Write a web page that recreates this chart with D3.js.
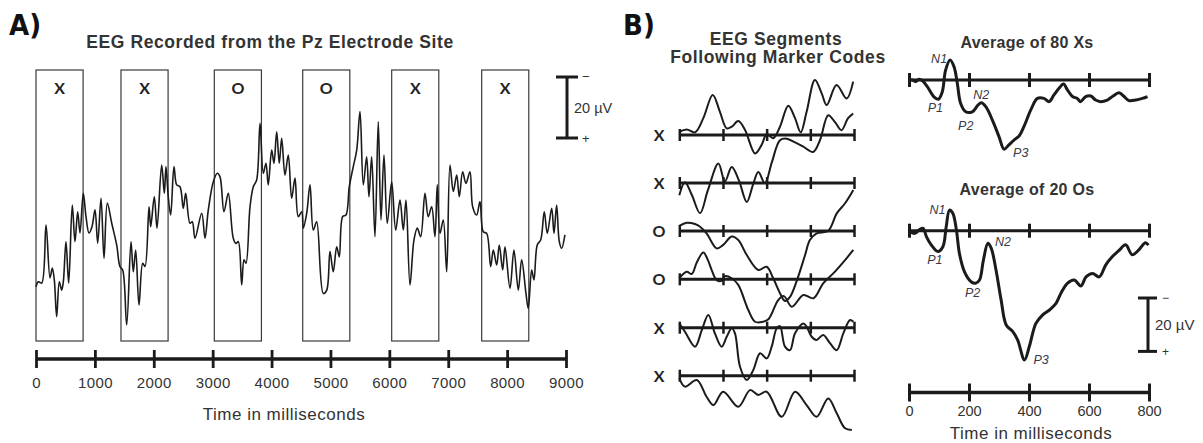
<!DOCTYPE html>
<html>
<head>
<meta charset="utf-8">
<script src="https://cdn.jsdelivr.net/npm/d3@7"></script>
<style>
  body { margin: 0; background: #fff; }
  text { font-family: "Liberation Sans", Arial, sans-serif; }
</style>
</head>
<body>
<script>
// Panel A: continuous EEG (time in ms, amplitude in uV, positive plotted down)
var eegTime = [0,39,97,170,238,277,311,351,396,436,464,509,555,616,662,708,747,803,849,900,951,1002,1048,1104,1155,1211,1285,1370,1426,1472,1540,1613,1652,1693,1749,1812,1851,1919,1948,2009,2055,2134,2179,2207,2246,2287,2343,2389,2445,2501,2542,2615,2654,2700,2814,2870,2926,3011,3078,3124,3192,3265,3350,3396,3435,3493,3532,3566,3634,3690,3747,3804,3860,3905,3944,4002,4041,4087,4131,4172,4228,4284,4342,4398,4454,4512,4539,4597,4653,4709,4766,4878,4937,4992,5048,5106,5150,5208,5264,5320,5388,5446,5502,5558,5615,5654,5700,5756,5812,5858,5909,5965,6040,6108,6181,6237,6283,6351,6418,6475,6532,6605,6661,6719,6775,6814,6860,6916,6974,7030,7086,7144,7188,7245,7301,7369,7415,7483,7539,7595,7653,7721,7766,7823,7867,7925,7964,8049,8116,8190,8247,8320,8359,8417,8456,8512,8570,8631,8682,8757,8796,8841,8886,8926,8982];
var eegUv = [18.6,17.0,17.4,-1.6,15.7,12.5,16.4,28.4,17.0,19.7,17.0,3.8,17.4,-8.2,3.8,-6.0,1.0,-12.0,-4.4,1.0,-1.1,-6.6,4.3,-10.4,9.3,-8.8,-2.3,4.9,12.0,13.1,31.1,3.8,13.7,6.6,24.6,10.9,12.0,-7.6,-1.1,-10.9,-0.6,-21.3,-12.0,-20.8,-10.9,-4.9,-20.8,-14.8,-14.2,-7.1,-12.0,-2.2,-2.7,2.7,-5.5,2.7,-6.6,-15.8,-18.6,-17.5,-6.0,-12.0,2.7,4.4,3.8,18.0,9.8,10.9,-7.6,-14.2,-16.4,-35.0,-18.6,-21.9,-14.8,-26.2,-21.9,-32.2,-21.9,-30.1,-18.0,-24.6,-10.4,-17.0,-4.4,-6.0,-0.6,-5.5,-14.8,0,-2.7,20.8,19.7,7.1,13.7,5.5,8.8,-4.4,-4.9,-14.2,-20.8,-26.2,-38.8,-14.8,-24.0,-10.9,-24.0,2.2,-35.5,-3.3,-24.6,-2.2,-15.8,0,-9.8,0,-9.8,18.0,3.3,-0.6,2.2,-12.0,-4.4,-7.6,2.2,-14.8,1.1,-3.3,13.7,-21.3,-12.6,-18.0,-10.9,-19.1,-15.3,-19.1,-7.6,-4.9,-9.3,0.6,1.1,12.0,6.6,11.5,4.9,13.1,5.5,19.1,6.6,19.7,9.8,20.8,25.7,13.1,16.4,4.9,3.3,-6.0,1.1,-7.1,1.1,-8.2,3.8,6.0,1.6];

var markerCodes = ["X", "X", "O", "O", "X", "X"];
var markerOnsets = [0, 1443, 3028, 4529, 6040, 7568];
var epochLength = 800;
var ticksA = [0, 1000, 2000, 3000, 4000, 5000, 6000, 7000, 8000, 9000];

// Panel B: single segments, [ms, uV]
var seg1 = [[0,-1.2],[34,-2.1],[72,-1.0],[110,-6.3],[153,-15.0],[186,-8.7],[217,-2.5],[240,-3.1],[270,-5.2],[301,-1.9],[347,6.9],[377,3.7],[400,-0.3],[430,1.2],[461,-3.1],[499,-11.0],[530,-6.3],[556,-1.0],[583,-8.7],[621,-20.6],[652,-15.6],[675,-11.2],[720,-18.7],[766,-13.7],[796,-20.0]];
var seg2 = [[0,4.6],[26,-0.3],[58,4.6],[95,11.3],[131,2.7],[179,-7.3],[209,-0.6],[240,-6.0],[273,-1.0],[309,7.1],[337,0.8],[362,-4.1],[392,0.1],[424,-7.8],[461,-16.0],[492,-16.6],[530,-15.2],[566,-13.7],[613,-11.6],[644,-16.0],[682,-25.4],[713,-22.8],[743,-19.8],[772,-24.2],[796,-26.0]];
var seg3 = [[0,-1.9],[34,-3.1],[72,-2.6],[95,-1.6],[125,0.9],[171,6.5],[201,5.2],[240,2.1],[270,3.4],[309,9.0],[362,14.6],[400,13.4],[430,17.7],[461,23.3],[484,26.2],[507,24.7],[539,18.4],[576,9.0],[598,3.4],[629,0.9],[682,-0.1],[721,-6.6],[759,-10.4],[797,-15.4]];
var seg4 = [[0,-0.4],[34,-2.8],[57,-2.0],[81,-6.5],[110,-10.0],[131,-7.2],[148,-3.5],[171,0.3],[194,0.6],[209,-1.2],[240,-0.4],[270,2.1],[316,11.5],[347,15.9],[379,16.0],[408,15.0],[453,7.8],[479,6.3],[515,10.3],[568,5.9],[614,7.1],[659,1.5],[705,-2.2],[759,-7.2],[797,-11.0]];
var seg5 = [[0,-1.6],[26,1.5],[72,7.1],[103,0.9],[133,-4.8],[163,2.1],[194,7.1],[217,3.4],[240,0.2],[255,2.1],[278,14.6],[309,19.6],[339,15.8],[370,9.6],[400,11.5],[423,7.1],[446,0.2],[461,-0.6],[484,7.1],[507,8.4],[530,2.1],[568,-1.6],[583,-0.4],[606,3.4],[629,4.6],[659,2.7],[690,5.8],[721,8.4],[751,2.1],[782,-2.9],[797,-2.2]];
var seg6 = [[0,1.0],[26,4.1],[80,1.6],[125,7.9],[156,11.0],[201,6.0],[270,11.6],[324,5.4],[362,7.2],[400,6.0],[469,15.4],[530,6.0],[583,11.0],[629,15.4],[682,8.5],[721,14.1],[759,19.7],[790,20.3]];
var segCodes = ["X", "X", "O", "O", "X", "X"];
var ticksB = [0, 200, 400, 600, 800];

// Panel B: averaged ERPs
var avgXTime = [0,11,22,33,45,61,83,98,111,122,137,150,161,172,189,211,230,241,256,278,300,317,333,350,367,383,406,428,450,467,483,500,515,528,545,561,572,589,606,622,639,661,678,700,717,733,756,778,795];
var avgXUv = [0,0,0.6,-0.3,0.3,2.5,6.3,7.2,4.4,-3.7,-7.5,-5.0,1.2,8.7,11.9,11.9,9.4,8.5,10.0,15.0,21.2,25.9,24.3,22.5,21.0,17.5,11.2,6.9,6.9,8.1,5.6,3.1,1.5,3.7,6.2,6.9,8.1,6.2,6.0,7.5,8.1,7.5,6.2,4.8,6.2,7.7,7.5,6.9,6.2];
var avgOTime = [0,19,36,47,58,74,96,113,124,135,146,158,168,185,207,222,235,248,263,274,290,307,324,346,362,385,401,423,445,468,490,506,528,551,573,590,612,634,656,678,700,722,744,766,788,798];
var avgOUv = [0,1.0,-0.5,-0.9,2.2,5.3,7.8,6.0,-1.5,-7.7,-6.5,-0.3,8.5,15.4,19.1,19.7,18.5,11.0,4.7,6.5,14.7,25.9,35.3,37.8,40.9,48.4,43.4,34.7,31.6,29.7,27.2,23.5,19.7,18.5,20.7,17.3,16.0,17.3,12.8,9.7,7.4,5.3,9.0,7.2,4.5,5.4];
var peakNames = ["N1", "P1", "P2", "N2", "P3"];
var peaksX = [[137,-7.5],[98,7.2],[189,11.9],[241,8.5],[317,25.9]];
var peaksO = [[135,-7.7],[96,7.8],[222,19.7],[263,4.7],[385,48.4]];

var ink = "#1b1b1b";
var textInk = "#333";

var svg = d3.select("body").append("svg")
  .attr("width", 1203)
  .attr("height", 443);

function stretchAxis(g, len, w) {
  g.select(".domain").remove();
  g.selectAll(".tick line").attr("y1", -len).attr("y2", len)
    .attr("stroke", ink).attr("stroke-width", w);
}

function heading(x, y, size, str) {
  return svg.append("text").attr("x", x).attr("y", y).attr("text-anchor", "middle")
    .style("font-weight", "bold").style("font-size", size + "px")
    .style("letter-spacing", "0.6px").attr("fill", textInk)
    .text(str);
}

function panelLetter(x, str) {
  svg.append("text").attr("x", x).attr("y", 35)
    .style("font-family", "'Liberation Sans Narrow', 'DejaVu Sans Condensed', sans-serif")
    .style("font-weight", "bold").style("font-size", "29px").attr("fill", "#111")
    .text(str);
}

// ---------- Panel A ----------
var xA = d3.scaleLinear().domain([0, 9000]).range([36, 566]);
var yA = d3.scaleLinear().domain([-50, 50]).range([230 - 152.5, 230 + 152.5]);

panelLetter(9, "A)");
heading(270, 48, 17.5, "EEG Recorded from the Pz Electrode Site");

var boxes = svg.append("g");
markerOnsets.forEach(function(t, i) {
  boxes.append("rect")
    .attr("x", xA(t)).attr("y", 70)
    .attr("width", xA(t + epochLength) - xA(t)).attr("height", 271)
    .attr("fill", "none").attr("stroke", "#3a3a3a").attr("stroke-width", 1.2);
  boxes.append("text")
    .attr("x", (xA(t) + xA(t + epochLength)) / 2).attr("y", 94)
    .attr("text-anchor", "middle")
    .style("font-family", "Lato, 'Open Sans', sans-serif")
    .style("font-weight", "bold").style("font-size", "16px").attr("fill", "#222")
    .text(markerCodes[i]);
});

var lineA = d3.line()
  .x(function(d, i) { return xA(eegTime[i]); })
  .y(function(d) { return yA(d); })
  .curve(d3.curveCatmullRom.alpha(0.5));
svg.append("path").datum(eegUv)
  .attr("d", lineA).attr("fill", "none")
  .attr("stroke", ink).attr("stroke-width", 1.6);

// scale bar A
var barTop = 77;
var barLen = yA(20) - yA(0);
var sbA = svg.append("g").attr("transform", "translate(567," + barTop + ")");
sbA.append("line").attr("x1", 0).attr("x2", 0).attr("y1", 0).attr("y2", barLen)
  .attr("stroke", ink).attr("stroke-width", 3);
sbA.append("line").attr("x1", -11).attr("x2", 11).attr("y1", 0).attr("y2", 0)
  .attr("stroke", ink).attr("stroke-width", 3);
sbA.append("line").attr("x1", -11).attr("x2", 11).attr("y1", barLen).attr("y2", barLen)
  .attr("stroke", ink).attr("stroke-width", 3);
sbA.append("text").attr("x", 15).attr("y", 4).style("font-size", "13px").attr("fill", textInk).text("\u2212");
sbA.append("text").attr("x", 15).attr("y", barLen + 5).style("font-size", "13px").attr("fill", textInk).text("+");
sbA.append("text").attr("x", 7).attr("y", barLen / 2 + 5).style("font-size", "14.5px").attr("fill", textInk).text("20 \u00b5V");

// time axis A
var axA = svg.append("g").attr("transform", "translate(0,359)")
  .call(d3.axisBottom(xA).tickValues(ticksA).tickSize(0).tickPadding(18)
    .tickFormat(d3.format("d")));
stretchAxis(axA, 9, 2.8);
axA.append("line").attr("x1", xA(0)).attr("x2", xA(9000))
  .attr("stroke", ink).attr("stroke-width", 3.5);
axA.selectAll(".tick text").style("font-size", "15px").style("letter-spacing", "0.4px")
  .attr("fill", textInk).style("font-family", "'Liberation Sans', Arial, sans-serif");
svg.append("text").attr("x", 284).attr("y", 420).attr("text-anchor", "middle")
  .style("font-size", "17px").style("letter-spacing", "0.5px")
  .attr("fill", textInk).text("Time in milliseconds");

// ---------- Panel B: segments ----------
panelLetter(623, "B)");
heading(776, 45, 17.5, "EEG Segments");
heading(778, 63, 17.5, "Following Marker Codes");

var xSeg = d3.scaleLinear().domain([0, 800]).range([679.3, 854]);
var segRows = [135, 183, 231, 279.3, 327.7, 375.7];
var segs = [seg1, seg2, seg3, seg4, seg5, seg6];

segs.forEach(function(seg, i) {
  var y0 = segRows[i];
  var ySeg = d3.scaleLinear().domain([-50, 50]).range([y0 - 133.5, y0 + 133.5]);
  var ax = svg.append("g").attr("transform", "translate(0," + y0 + ")")
    .call(d3.axisBottom(xSeg).tickValues(ticksB).tickSize(0).tickFormat(""));
  stretchAxis(ax, 6, 2.5);
  ax.append("line").attr("x1", xSeg(0)).attr("x2", xSeg(800))
    .attr("stroke", ink).attr("stroke-width", 3);
  svg.append("text").attr("x", 659).attr("y", y0 + 6).attr("text-anchor", "middle")
    .style("font-family", "Lato, 'Open Sans', sans-serif")
    .style("font-weight", "bold").style("font-size", "16px").attr("fill", "#222")
    .text(segCodes[i]);
  var ln = d3.line()
    .x(function(d) { return xSeg(d[0]); })
    .y(function(d) { return ySeg(d[1]); })
    .curve(d3.curveCatmullRom.alpha(0.5));
  svg.append("path").datum(seg).attr("d", ln).attr("fill", "none")
    .attr("stroke", ink).attr("stroke-width", 2);
});

// ---------- Panel B: averages ----------
var xAvg = d3.scaleLinear().domain([0, 800]).range([909, 1149]);

function drawAverage(title, titleY, axisY, times, uv, peaks, offs) {
  var yAvg = d3.scaleLinear().domain([-50, 50]).range([axisY - 133.5, axisY + 133.5]);
  svg.append("text").attr("x", 1027).attr("y", titleY).attr("text-anchor", "middle")
    .style("font-weight", "bold").style("font-size", "16px").style("letter-spacing", "0.3px")
    .attr("fill", textInk).text(title);
  var ax = svg.append("g").attr("transform", "translate(0," + axisY + ")")
    .call(d3.axisBottom(xAvg).tickValues(ticksB).tickSize(0).tickFormat(""));
  stretchAxis(ax, 7, 3);
  ax.append("line").attr("x1", xAvg(0)).attr("x2", xAvg(800))
    .attr("stroke", ink).attr("stroke-width", 3);
  var ln = d3.line()
    .x(function(d, i) { return xAvg(times[i]); })
    .y(function(d) { return yAvg(d); })
    .curve(d3.curveCatmullRom.alpha(0.5));
  svg.append("path").datum(uv).attr("d", ln).attr("fill", "none")
    .attr("stroke", ink).attr("stroke-width", 3);
  peaks.forEach(function(p, i) {
    svg.append("text")
      .attr("x", xAvg(p[0]) + offs[i][0]).attr("y", yAvg(p[1]) + offs[i][1])
      .attr("text-anchor", offs[i][2])
      .style("font-style", "italic").style("font-size", "12.5px").attr("fill", "#3a3a48")
      .text(peakNames[i]);
  });
}

drawAverage("Average of 80 Xs", 48, 80, avgXTime, avgXUv, peaksX,
  [[-3, 3, "end"], [-3, 13, "middle"], [0, 18, "middle"], [0, -4, "middle"], [9, 8, "start"]]);
drawAverage("Average of 20 Os", 195, 230.7, avgOTime, avgOUv, peaksO,
  [[-4, 4, "end"], [-3, 12, "middle"], [-3, 14, "middle"], [7, 3, "start"], [9, 4, "start"]]);

// scale bar B
var yAvgRef = d3.scaleLinear().domain([-50, 50]).range([-133.5, 133.5]);
var barLenB = yAvgRef(20) - yAvgRef(0);
var sbB = svg.append("g").attr("transform", "translate(1148,298)");
sbB.append("line").attr("x1", 0).attr("x2", 0).attr("y1", 0).attr("y2", barLenB)
  .attr("stroke", ink).attr("stroke-width", 3);
sbB.append("line").attr("x1", -10).attr("x2", 9).attr("y1", 0).attr("y2", 0)
  .attr("stroke", ink).attr("stroke-width", 3);
sbB.append("line").attr("x1", -10).attr("x2", 9).attr("y1", barLenB).attr("y2", barLenB)
  .attr("stroke", ink).attr("stroke-width", 3);
sbB.append("text").attr("x", 14).attr("y", 4).style("font-size", "12px").attr("fill", textInk).text("\u2212");
sbB.append("text").attr("x", 14).attr("y", barLenB + 5).style("font-size", "12px").attr("fill", textInk).text("+");
sbB.append("text").attr("x", 7).attr("y", barLenB / 2 + 5).style("font-size", "15px").attr("fill", textInk).text("20 \u00b5V");

// time axis B
var axB = svg.append("g").attr("transform", "translate(0,392.5)")
  .call(d3.axisBottom(xAvg).tickValues(ticksB).tickSize(0).tickPadding(13));
stretchAxis(axB, 9, 3);
axB.append("line").attr("x1", xAvg(0)).attr("x2", xAvg(800))
  .attr("stroke", ink).attr("stroke-width", 3.5);
axB.selectAll(".tick text").style("font-size", "14.5px").attr("fill", textInk)
  .style("font-family", "'Liberation Sans', Arial, sans-serif");
svg.append("text").attr("x", 1031).attr("y", 439).attr("text-anchor", "middle")
  .style("font-size", "17px").style("letter-spacing", "0.5px")
  .attr("fill", textInk).text("Time in milliseconds");
</script>
</body>
</html>
